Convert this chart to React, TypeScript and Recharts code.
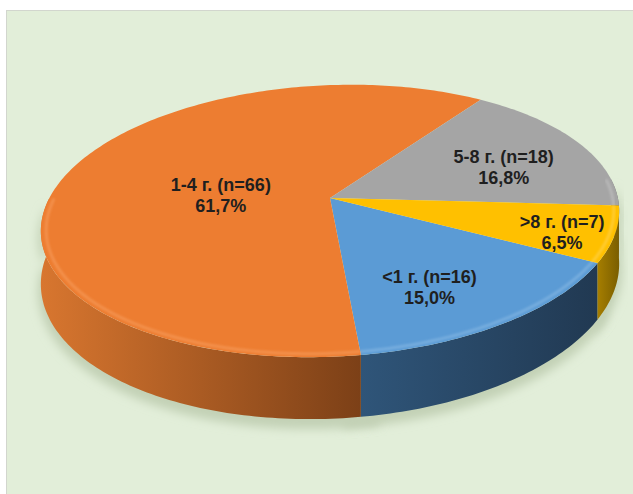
import { Pie, PieChart } from "recharts";

const categories = ["<1 г.", "1-4 г.", "5-8 г.", ">8 г."];
const counts = [16, 66, 18, 7];
const topColors = ["#5b9bd5", "#ed7d31", "#a5a5a5", "#ffc000"];
const rimColors = ["#8dbbe6", "#f7a060", "#c4c4c4", "#ffd65a"];
const sideColors = [
  ["#2f5579", "#213952"],
  ["#d8762f", "#7c4017"],
  ["#8a8a8a", "#5e5e5e"],
  ["#a67e00", "#7a5e00"],
];
// label placement: fraction of the radius, and a turn (degrees) away from the slice middle
const labelRadius = [0.7, 0.39, 0.66, 0.83];
const labelTurn = [-5.6, 8.3, -5.4, -2.2];

const data = categories.map((name, i) => ({ name, value: counts[i] }));

const W = 633;
const H = 494;
const TILT = 0.463; // vertical squash of the disk
const SKEW = -0.035; // left edge sits a little lower than the right
const PERSP = -0.169; // near edge drawn larger than the far edge
const DEPTH = 51.5;
const RAD = Math.PI / 180;

type P = [number, number];

function project(cx: number, cy: number, outer: number, angle: number, frac: number, drop = 0): P {
  const u = frac * Math.cos(angle * RAD);
  const v = -frac * Math.sin(angle * RAD);
  const den = 1 + PERSP * v;
  return [cx + (outer * u) / den, cy + (outer * (TILT * v + SKEW * u) + drop) / den];
}

function arc(cx: number, cy: number, outer: number, a1: number, a2: number, frac: number, drop = 0) {
  const n = Math.max(2, Math.ceil(Math.abs(a2 - a1)) + 1);
  const pts: P[] = [];
  for (let i = 0; i < n; i++) {
    pts.push(project(cx, cy, outer, a1 + ((a2 - a1) * i) / (n - 1), frac, drop));
  }
  return pts;
}

const toPath = (pts: P[], close = true) =>
  pts.map((p, i) => `${i ? "L" : "M"}${p[0].toFixed(2)},${p[1].toFixed(2)}`).join("") + (close ? "Z" : "");

// parts of [lo, hi] that lie on the near half of the disk
function frontSpans(lo: number, hi: number) {
  const spans: [number, number][] = [];
  for (const k of [-720, -360, 0, 360]) {
    const s = Math.max(lo, -184 + k);
    const e = Math.min(hi, 4 + k);
    if (e > s) spans.push([s, e]);
  }
  return spans;
}

function sidePath(cx: number, cy: number, outer: number, s: number, e: number, drop = 0) {
  const top = arc(cx, cy, outer, s, e, 1, drop);
  const bottom = arc(cx, cy, outer, e, s, 1, DEPTH + drop);
  return toPath([...top, ...bottom]);
}

const renderShadow = (p: any) => {
  const { cx, cy, outerRadius, startAngle, endAngle, index } = p;
  const lo = Math.min(startAngle, endAngle) - 3;
  const hi = Math.max(startAngle, endAngle) + 3;
  return (
    <g key={`shadow-${index}`}>
      <defs>
        <filter id={`blur-${index}`} x="-20%" y="-50%" width="140%" height="200%">
          <feGaussianBlur stdDeviation="5" />
        </filter>
      </defs>
      {frontSpans(lo, hi).map(([s, e], i) => (
        <path
          key={i}
          d={sidePath(cx, cy, outerRadius * 1.01, s, e, 7)}
          fill="#c3d1b6"
          filter={`url(#blur-${index})`}
        />
      ))}
    </g>
  );
};

const renderSide = (p: any) => {
  const { cx, cy, outerRadius, startAngle, endAngle, index } = p;
  const lo = Math.min(startAngle, endAngle);
  const hi = Math.max(startAngle, endAngle);
  const [c1, c2] = sideColors[index];
  return (
    <g key={`side-${index}`}>
      <defs>
        <linearGradient id={`side-${index}`} x1="0" y1="0" x2="1" y2="0">
          <stop offset="0%" stopColor={c1} />
          <stop offset="100%" stopColor={c2} />
        </linearGradient>
      </defs>
      {frontSpans(lo, hi).map(([s, e], i) => (
        <path key={i} d={sidePath(cx, cy, outerRadius, s, e)} fill={`url(#side-${index})`} />
      ))}
    </g>
  );
};

const renderTop = (p: any) => {
  const { cx, cy, outerRadius, startAngle, endAngle, midAngle, percent, index } = p;
  const face = toPath([[cx, cy], ...arc(cx, cy, outerRadius, startAngle, endAngle, 1)]);
  const lo = Math.min(startAngle, endAngle);
  const hi = Math.max(startAngle, endAngle);
  const [lx, ly] = project(cx, cy, outerRadius, midAngle + labelTurn[index], labelRadius[index]);
  const pct = (percent * 100).toFixed(1).replace(".", ",");
  return (
    <g key={`top-${index}`}>
      <defs>
        <filter id={`soft-${index}`} x="-10%" y="-10%" width="120%" height="120%">
          <feGaussianBlur stdDeviation="1.2" />
        </filter>
      </defs>
      <path d={face} fill={topColors[index]} />
      {frontSpans(lo, hi).map(([s, e], i) => (
        <path
          key={i}
          d={toPath(arc(cx, cy, outerRadius, s, e, 0.982), false)}
          fill="none"
          stroke={rimColors[index]}
          strokeOpacity={0.55}
          strokeWidth={3}
          filter={`url(#soft-${index})`}
        />
      ))}
      <text
        x={lx}
        y={ly}
        textAnchor="middle"
        fontFamily="Arial, 'Liberation Sans', sans-serif"
        fontWeight="bold"
        fontSize={18}
        fill="#1f1f1f"
      >
        <tspan x={lx} dy={-4}>{`${data[index].name} (n=${data[index].value})`}</tspan>
        <tspan x={lx} dy={21}>{`${pct}%`}</tspan>
      </text>
    </g>
  );
};

export default function App() {
  const pieProps = {
    data,
    dataKey: "value",
    nameKey: "name",
    cx: 325,
    cy: 193,
    outerRadius: 285,
    startAngle: -31,
    endAngle: -391,
    fill: "none",
    stroke: "none",
    labelLine: false,
    isAnimationActive: false,
  };

  return (
    <div style={{ position: "absolute", left: 0, top: 0, width: W, height: H, background: "#fff", overflow: "hidden" }}>
      <div
        style={{
          position: "absolute",
          left: 6,
          top: 10,
          width: W,
          height: H,
          background: "#e2eed9",
          border: "1px solid #d2d6ce",
        }}
      />
      <div style={{ position: "absolute", left: 0, top: 0 }}>
        <PieChart width={W} height={H}>
          <Pie {...pieProps} label={renderShadow} />
          <Pie {...pieProps} label={renderSide} />
          <Pie {...pieProps} label={renderTop} />
        </PieChart>
      </div>
    </div>
  );
}
